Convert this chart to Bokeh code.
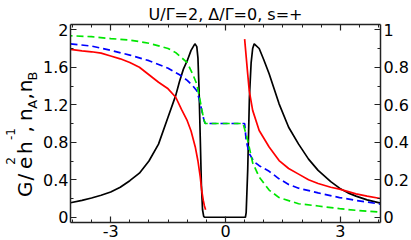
import numpy as np
from bokeh.plotting import figure
from bokeh.layouts import row
from bokeh.models import Range1d, LinearAxis, FixedTicker, Label, CustomJSTickFormatter
from bokeh.embed import file_html
from bokeh.resources import INLINE

nan = float("nan")

title_text = "U/\u0393=2, \u0394/\u0393=0, s=+"

# x ticks
x_ticks = [-3, 0, 3]
x_tick_labels = ["-3", "0", "3"]
x_minor = [-4, -3.5, -3, -2.5, -2, -1.5, -1, -0.5, 0, 0.5, 1, 1.5, 2, 2.5, 3, 3.5, 4]
# left y ticks
yl_ticks = [0, 0.4, 0.8, 1.2, 1.6, 2]
yl_tick_labels = ["0", "0.4", "0.8", "1.2", "1.6", "2"]
yl_minor = [0, 0.2, 0.4, 0.6, 0.8, 1.0, 1.2, 1.4, 1.6, 1.8, 2.0]
# right y ticks
yr_ticks = [0, 0.2, 0.4, 0.6, 0.8, 1]
yr_tick_labels = ["0", "0.2", "0.4", "0.6", "0.8", "1"]
yr_minor = [0, 0.1, 0.2, 0.3, 0.4, 0.5, 0.6, 0.7, 0.8, 0.9, 1.0]

# G (black), left axis
g_x = [-4.05, -3.75, -3.5, -3.25, -3.0, -2.75, -2.5, -2.25, -2.0, -1.75, -1.5, -1.3, -1.2, -1.1,
       -1.0, -0.9, -0.8, -0.75, -0.72, -0.69, -0.66, -0.63, -0.60, -0.57, -0.55,
       0.52, 0.54, 0.58, 0.625, 0.67, 0.71, 0.75, 0.88, 1.0, 1.14, 1.27, 1.4,
       1.65, 1.91, 2.17, 2.42, 2.75, 2.98, 3.2, 3.41, 3.7, 4.05]
g_y = [0.155, 0.18, 0.205, 0.235, 0.27, 0.32, 0.39, 0.47, 0.60, 0.78, 1.07, 1.30, 1.45, 1.58,
       1.67, 1.78, 1.85, 1.82, 1.70, 1.35, 0.85, 0.35, 0.08, 0.01, 0.0,
       0.0, 0.05, 0.5, 1.28, 1.65, 1.80, 1.85, 1.80, 1.68, 1.53, 1.37, 1.21,
       0.96, 0.78, 0.62, 0.50, 0.38, 0.31, 0.26, 0.225, 0.185, 0.15]

# red curve, left axis (gap in the middle)
r_x = [-4.05, -3.75, -3.5, -3.25, -3.0, -2.75, -2.5, -2.25, -2.0, -1.75, -1.5, -1.3, -1.15,
       -1.0, -0.9, -0.79, -0.72, -0.66, -0.62, -0.58, -0.55, -0.52,
       0.0,
       0.50, 0.58, 0.62, 0.71, 0.88, 1.14, 1.40, 1.65, 1.91, 2.17, 2.42, 2.75, 2.98,
       3.41, 3.7, 4.05]
r_y = [1.79, 1.775, 1.765, 1.75, 1.72, 1.69, 1.65, 1.60, 1.52, 1.44, 1.37, 1.28, 1.15,
       1.03, 0.92, 0.75, 0.60, 0.43, 0.28, 0.18, 0.12, 0.08,
       nan,
       1.90, 1.53, 1.35, 1.14, 0.925, 0.75, 0.605, 0.52, 0.46, 0.40, 0.36, 0.32, 0.30,
       0.25, 0.225, 0.20]

# n (green dashed), right axis
ng_x = [-4.05, -3.5, -3.0, -2.5, -2.0, -1.5, -1.3, -1.0, -0.85, -0.75, -0.68, -0.62, -0.57,
        -0.53, 0.46, 0.50, 0.58, 0.71, 0.88, 1.14, 1.40, 1.91, 2.42, 2.98, 3.41, 4.05]
ng_y = [0.968, 0.963, 0.953, 0.945, 0.928, 0.90, 0.878, 0.825, 0.76, 0.71, 0.64, 0.575, 0.525,
        0.5, 0.5, 0.47, 0.41, 0.29, 0.215, 0.145, 0.105, 0.072, 0.06, 0.046, 0.037, 0.027]

# n (blue dashed), right axis
nb_x = [-4.05, -3.5, -3.0, -2.5, -2.0, -1.5, -1.2, -1.0, -0.85, -0.75, -0.68, -0.62, -0.56,
        -0.53, 0.50, 0.54, 0.62, 0.75, 0.88, 1.14, 1.40, 1.65, 1.91, 2.42, 2.98, 3.41, 4.05]
nb_y = [0.925, 0.913, 0.89, 0.865, 0.835, 0.795, 0.76, 0.73, 0.70, 0.675, 0.625, 0.57, 0.515,
        0.5, 0.5, 0.41, 0.34, 0.295, 0.275, 0.245, 0.205, 0.175, 0.155, 0.13, 0.105, 0.09,
        0.07]

FONT = "DejaVu Sans"
AX = "#222222"
LAB_W = 40

p = figure(width=411 - LAB_W, height=240, output_backend="svg", toolbar_location=None,
           x_range=Range1d(-4.05, 4.05), y_range=Range1d(-0.056, 2.056),
           min_border_left=68 - LAB_W, min_border_right=29, min_border_top=24,
           min_border_bottom=18, title=title_text)
p.extra_y_ranges = {"n": Range1d(-0.028, 1.028)}
p.outline_line_color = None
p.xgrid.visible = False
p.ygrid.visible = False

p.title.text_font = FONT
p.title.text_font_size = "16px"
p.title.text_font_style = "normal"
p.title.text_color = "black"
p.title.align = "center"
p.title.standoff = 1
p.title.offset = 0


def style_axis(ax, size="16px"):
    ax.axis_line_color = AX
    ax.axis_line_width = 1.5
    ax.major_tick_line_color = AX
    ax.minor_tick_line_color = AX
    ax.major_tick_line_width = 1.2
    ax.minor_tick_line_width = 1.0
    ax.major_tick_in = 6
    ax.major_tick_out = 0
    ax.minor_tick_in = 3
    ax.minor_tick_out = 0
    ax.major_label_text_font = FONT
    ax.major_label_text_font_size = size
    ax.major_label_text_color = "black"
    ax.major_label_standoff = 3


xa = p.xaxis[0]
xa.ticker = FixedTicker(ticks=x_ticks, minor_ticks=x_minor)
xa.major_label_overrides = dict(zip(x_ticks, x_tick_labels))
style_axis(xa)
xa.major_label_standoff = 2

ya = p.yaxis[0]
ya.ticker = FixedTicker(ticks=yl_ticks, minor_ticks=yl_minor)
ya.major_label_overrides = dict(zip(yl_ticks, yl_tick_labels))
style_axis(ya)
ya.major_label_standoff = 2

blank = CustomJSTickFormatter(code="return ''")
top = LinearAxis(ticker=FixedTicker(ticks=x_ticks, minor_ticks=x_minor), formatter=blank)
style_axis(top)
top.major_label_standoff = 0
p.add_layout(top, "above")

ra = LinearAxis(y_range_name="n", ticker=FixedTicker(ticks=yr_ticks, minor_ticks=yr_minor))
ra.major_label_overrides = dict(zip(yr_ticks, yr_tick_labels))
style_axis(ra)
p.add_layout(ra, "right")

p.line(g_x, g_y, line_color="black", line_width=1.7)
p.line(r_x, r_y, line_color="#ff0000", line_width=1.7)
p.line(nb_x, nb_y, line_color="#0000ff", line_width=1.7, line_dash="7 4", y_range_name="n")
p.line(ng_x, ng_y, line_color="#00e600", line_width=1.7, line_dash="7 4", y_range_name="n",
       line_dash_offset=5)

# separate narrow panel holding the rotated y-axis label (with super/subscripts)
lab = figure(width=LAB_W, height=240, output_backend="svg", toolbar_location=None,
             x_range=Range1d(0, LAB_W), y_range=Range1d(0, 240), x_axis_type=None,
             y_axis_type=None, min_border=0, title=None)
lab.outline_line_color = None

# (text, start y from top, baseline x, font size)
pieces = [
    ("G", 209, 24, "20px"),
    ("/", 189, 24, "20px"),
    ("e", 175, 24, "20px"),
    ("2", 170, 10, "12px"),
    ("h", 157, 24, "20px"),
    ("-1", 140, 10, "12px"),
    (",", 131, 24, "20px"),
    ("n", 117, 24, "20px"),
    ("A", 102, 32, "13px"),
    (",", 91, 24, "20px"),
    ("n", 82, 24, "20px"),
    ("B", 68, 32, "13px"),
]
for txt, py, bx, sz in pieces:
    lab.add_layout(Label(x=bx, y=240 - py, text=txt, angle=np.pi / 2, text_align="left",
                         text_baseline="alphabetic", text_font=FONT, text_font_size=sz,
                         text_color="black"))

layout = row(lab, p)
open("out.html", "w").write(file_html(layout, INLINE))
